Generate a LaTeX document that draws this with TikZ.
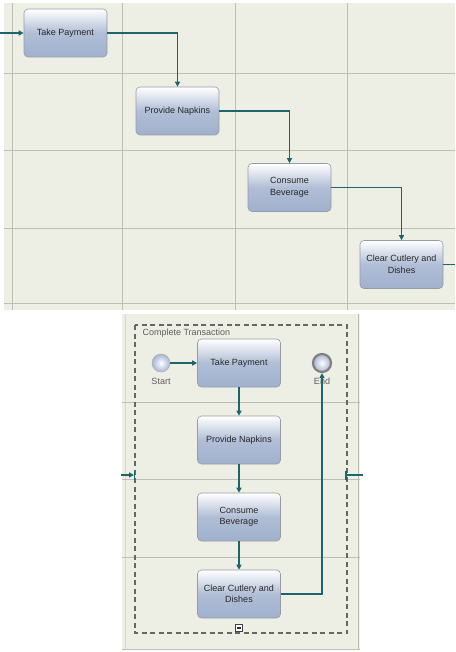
\documentclass[tikz,border=0pt]{standalone}
\usepackage{fontspec}
\setmainfont{Liberation Sans}
\usetikzlibrary{arrows.meta}
\definecolor{bgpale}{RGB}{237,239,228}
\definecolor{gridc}{RGB}{190,190,180}
\definecolor{teal}{RGB}{30,100,110}
\definecolor{boxblue}{RGB}{150,168,200}
\definecolor{boxline}{RGB}{150,156,166}
\definecolor{txt}{RGB}{40,40,40}
\tikzset{
  task/.style={draw=boxline, line width=0.6pt, rounded corners=4pt,
    top color=white, bottom color=boxblue!90!white, middle color=boxblue!75!white,
    minimum width=83pt, minimum height=48pt, inner sep=1pt,
    align=center, font=\fontsize{9}{11.5}\selectfont, text=txt},
  conn/.style={draw=teal, line width=1.7pt, -{Triangle[length=5pt,width=5pt]}},
  plain/.style={draw=teal, line width=1.7pt},
  grid/.style={draw=gridc, line width=0.8pt},
  lbl/.style={font=\fontsize{9}{10}\selectfont, text=txt!75},
  ev/.style={circle, minimum size=18pt, inner sep=0pt, inner color=white, outer color=boxblue!85!white}
}
\begin{document}
\begin{tikzpicture}[x=1pt,y=-1pt]
\useasboundingbox (0,0) rectangle (455,652);
\fill[white] (0,0) rectangle (455,652);
% top region
\fill[bgpale] (4,3) rectangle (455,310);
\foreach \x in {12,122,235,347} \draw[grid] (\x,3) -- (\x,310);
\foreach \y in {73,150,228,303} \draw[grid] (4,\y) -- (455,\y);
% bottom region
\fill[bgpale] (122,314) rectangle (360,650);
\draw[grid] (358,314) -- (358,650);
\draw[grid, draw=gridc!60] (125,314) -- (125,650);
\foreach \y in {402,479,557,649} \draw[grid] (122,\y) -- (360,\y);
\draw[draw=black!60, line width=1.4pt, dash pattern=on 5pt off 3.5pt] (135,325) rectangle (347,633);
\node[lbl, anchor=west] (title) at (139,333) {Complete Transaction};

% top flow
\node[task] (tp1) at (65.5,33) {Take Payment};
\node[task] (pn1) at (177.5,111) {Provide Napkins};
\node[task] (cb1) at (289.5,187.5) {Consume\\Beverage};
\node[task] (cc1) at (401.5,264.5) {Clear Cutlery and\\Dishes};
\coordinate (in1) at (0,33);
\coordinate (out1) at (455,264.5);
\draw[conn] (in1) -- (tp1.west);
\draw[conn] (tp1.east) -| (pn1.north);
\draw[conn] (pn1.east) -| (cb1.north);
\draw[conn] (cb1.east) -| (cc1.north);
\draw[plain] (cc1.east) -- (out1);

% bottom flow
\node[task] (tp2) at (239,363) {Take Payment};
\node[task] (pn2) at (239,440) {Provide Napkins};
\node[task] (cb2) at (239,517) {Consume\\Beverage};
\node[task] (cc2) at (239,594) {Clear Cutlery and\\Dishes};
\node[ev, draw=boxline!80, line width=0.5pt] (start) at (161,363) {};
\node[ev, draw=black!50, line width=2.2pt] (end) at (322,363) {};
\node[lbl] (startl) at (161,381) {Start};
\node[lbl] (endl) at (322,381) {End};
\draw[conn] (start.east) -- (tp2.west);
\draw[conn] (tp2.south) -- (pn2.north);
\draw[conn] (pn2.south) -- (cb2.north);
\draw[conn] (cb2.south) -- (cc2.north);
\draw[conn] (cc2.east) -| (end.south);

% boundary markers
\coordinate (la) at (121,475);
\coordinate (lb) at (134,475);
\draw[conn] (la) -- (lb);
\draw[teal, line width=1.4pt] (134.5,470.5) -- (134.5,479.5);
\coordinate (ra) at (346,475);
\coordinate (rb) at (363,475);
\draw[plain] (ra) -- (rb);
\draw[teal, line width=1.4pt] (346,470.5) -- (346,479.5);

% collapse icon
\node[draw=black!75, line width=0.9pt, fill=white, minimum size=7pt, inner sep=0pt] (col) at (239,628) {};
\draw[black!80, line width=1.2pt] ([xshift=1.5pt]col.west) -- ([xshift=-1.5pt]col.east);
\end{tikzpicture}
\end{document}
